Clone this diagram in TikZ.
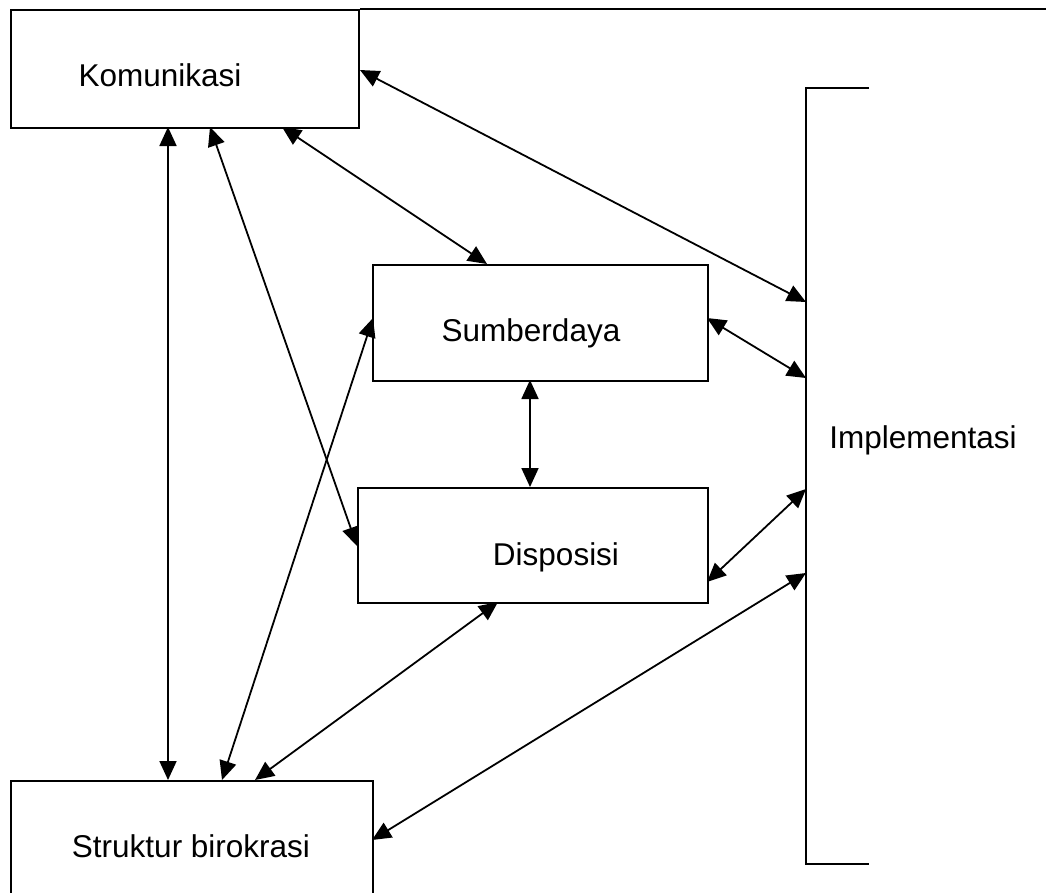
\documentclass[tikz,border=0pt]{standalone}
\usepackage{fontspec}
\setmainfont{Liberation Sans}
\usetikzlibrary{arrows.meta}
\begin{document}
\begin{tikzpicture}[x=1pt,y=-1pt,
  box/.style={draw, line width=1.8pt, inner sep=0pt, anchor=north west},
  lbl/.style={anchor=base, inner sep=0pt, font=\fontsize{31.5}{36}\selectfont},
  link/.style={line width=1.8pt, {Triangle[length=19pt,width=17pt]}-{Triangle[length=19pt,width=17pt]}},
  brk/.style={line width=1.8pt}]
\useasboundingbox (0,0) rectangle (1046,892);
% boxes
\node[box, minimum width=348pt, minimum height=118pt] (kom) at (10,9) {};
\node[box, minimum width=335pt, minimum height=116pt] (sum) at (372,264) {};
\node[box, minimum width=350pt, minimum height=115pt] (dis) at (357,487) {};
\node[box, minimum width=362pt, minimum height=140pt] (str) at (10,780) {};
% top rule
\coordinate (topend) at (1060,9);
\draw[brk] (kom.north east) -- (topend);
% implementation bracket
\coordinate (itop) at (806,88);
\coordinate (ibot) at (806,864);
\coordinate (itopr) at (869,88);
\coordinate (ibotr) at (869,864);
\draw[brk] (itopr) -- (itop) -- (ibot) -- (ibotr);
% labels
\node[lbl] (tkom) at (160,86) {Komunikasi};
\node[lbl] (tsum) at (531,341) {Sumberdaya};
\node[lbl] (tdis) at (556,565) {Disposisi};
\node[lbl] (tstr) at (191,857) {Struktur birokrasi};
\node[lbl] (timp) at (923,448) {Implementasi};
% endpoints
\coordinate (k1) at (360,70);
\coordinate (k2) at (282,127);
\coordinate (k3) at (210,127);
\coordinate (k4) at (168,127);
\coordinate (s1) at (487,264);
\coordinate (s2) at (707,318);
\coordinate (s3) at (530,380);
\coordinate (s4) at (373,318);
\coordinate (d1) at (357,546);
\coordinate (d2) at (530,487);
\coordinate (d3) at (707,582);
\coordinate (d4) at (498,602);
\coordinate (b1) at (168,780);
\coordinate (b2) at (222,780);
\coordinate (b3) at (255,780);
\coordinate (b4) at (372,840);
\coordinate (i1) at (806,302);
\coordinate (i2) at (806,378);
\coordinate (i3) at (806,489);
\coordinate (i4) at (806,573);
% connectors
\draw[link] (k1) -- (i1);
\draw[link] (k2) -- (s1);
\draw[link] (k3) -- (d1);
\draw[link] (k4) -- (b1);
\draw[link] (s2) -- (i2);
\draw[link] (s3) -- (d2);
\draw[link] (s4) -- (b2);
\draw[link] (d3) -- (i3);
\draw[link] (d4) -- (b3);
\draw[link] (b4) -- (i4);
\end{tikzpicture}
\end{document}
